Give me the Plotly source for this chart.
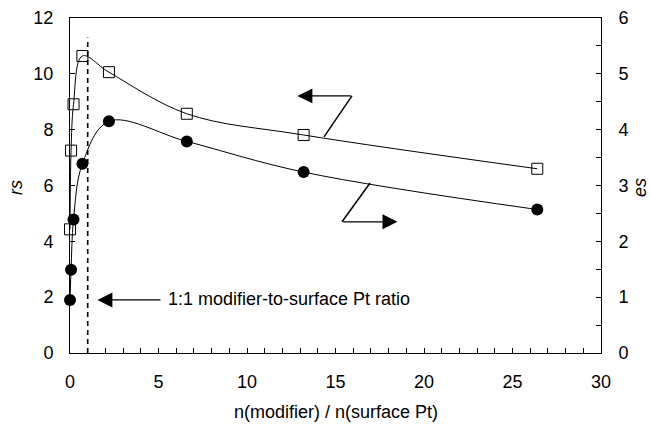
import plotly.graph_objects as go

# data
ratio = [0.0, 0.06, 0.2, 0.7, 2.2, 6.6, 13.2, 26.4]
rs_vals = [4.43, 7.25, 8.91, 10.64, 10.06, 8.57, 7.81, 6.60]
es_vals = [0.95, 1.49, 2.39, 3.39, 4.15, 3.79, 3.24, 2.57]
x_ticks = [0, 5, 10, 15, 20, 25, 30]
rs_ticks = [0, 2, 4, 6, 8, 10, 12]
es_ticks = [0, 1, 2, 3, 4, 5, 6]

FONT = "Liberation Sans, Arial, sans-serif"

fig = go.Figure()
fig.add_trace(go.Scatter(
    x=ratio, y=rs_vals, mode="lines+markers",
    line=dict(color="black", width=1, shape="spline", smoothing=1),
    marker=dict(symbol="square-open", size=11, color="black", line=dict(width=1)),
    showlegend=False, cliponaxis=False))
fig.add_trace(go.Scatter(
    x=ratio, y=es_vals, mode="lines+markers", yaxis="y2",
    line=dict(color="black", width=1, shape="spline", smoothing=1),
    marker=dict(symbol="circle", size=12, color="black"),
    showlegend=False, cliponaxis=False))

# dashed 1:1 line
fig.add_shape(type="line", x0=1, x1=1, y0=0, y1=11.3, xref="x", yref="y",
              line=dict(color="black", width=1.6, dash="5px,4px"))

# bent arrow pointing left (rs series)
fig.add_shape(type="path", path="M 14.35 7.74 L 15.93 9.21", xref="x", yref="y",
              line=dict(color="black", width=1.5))
fig.add_annotation(x=12.85, y=9.21, ax=15.95, ay=9.21, xref="x", yref="y",
                   axref="x", ayref="y", text="", showarrow=True,
                   arrowhead=2, arrowsize=2.3, arrowwidth=1.3, arrowcolor="black")
# bent arrow pointing right (es series)
fig.add_shape(type="path", path="M 16.95 6.09 L 15.37 4.70", xref="x", yref="y",
              line=dict(color="black", width=1.5))
fig.add_annotation(x=18.5, y=4.70, ax=15.35, ay=4.70, xref="x", yref="y",
                   axref="x", ayref="y", text="", showarrow=True,
                   arrowhead=2, arrowsize=2.3, arrowwidth=1.3, arrowcolor="black")
# ratio arrow
fig.add_annotation(x=1.55, y=1.90, ax=5.2, ay=1.90, xref="x", yref="y",
                   axref="x", ayref="y", text="", showarrow=True,
                   arrowhead=2, arrowsize=2.3, arrowwidth=1.3, arrowcolor="black")
fig.add_annotation(x=5.45, y=1.95, xref="x", yref="y", xanchor="left",
                   text="1:1 modifier-to-surface Pt ratio", showarrow=False,
                   font=dict(family=FONT, size=18, color="black"))

# axis titles
fig.add_annotation(x=(336 - 70) / 531, y=-(412 - 353) / 335, xref="paper", yref="paper",
                   text="n(modifier) / n(surface Pt)", showarrow=False,
                   xanchor="center", yanchor="middle",
                   font=dict(family=FONT, size=18, color="black"))
fig.add_annotation(x=-(70 - 16) / 531, y=(353 - 188) / 335, xref="paper", yref="paper",
                   text="<i>rs</i>", showarrow=False, textangle=-90, borderpad=0,
                   xanchor="center", yanchor="middle",
                   font=dict(family=FONT, size=18, color="black"))
fig.add_annotation(x=1 + (640 - 601) / 531, y=(353 - 188) / 335, xref="paper", yref="paper",
                   text="<i>es</i>", showarrow=False, textangle=-90, borderpad=0,
                   xanchor="center", yanchor="middle",
                   font=dict(family=FONT, size=18, color="black"))

fig.update_layout(
    width=650, height=425,
    margin=dict(l=70, r=49, t=18, b=72, autoexpand=False),
    paper_bgcolor="white", plot_bgcolor="white",
    font=dict(family=FONT, size=18, color="black"),
    xaxis=dict(range=[0, 30], tickvals=x_ticks, ticks="inside", ticklen=5,
               tickcolor="black", showline=True, linecolor="black", linewidth=1,
               mirror=True, showgrid=False, zeroline=False, automargin=False,
               minor=dict(dtick=1, ticks="inside", ticklen=5, tickcolor="black"),
               ticklabelstandoff=12),
    yaxis=dict(range=[0, 12], tickvals=rs_ticks, ticks="inside", ticklen=5,
               tickcolor="black", showline=True, linecolor="black", linewidth=1,
               showgrid=False, zeroline=False, ticklabelstandoff=12, automargin=False),
    yaxis2=dict(range=[0, 6], tickvals=es_ticks, ticks="inside", ticklen=5,
                tickcolor="black", showline=True, linecolor="black", linewidth=1,
                overlaying="y", side="right", showgrid=False, zeroline=False,
                minor=dict(dtick=0.5, ticks="inside", ticklen=5, tickcolor="black"),
                ticklabelstandoff=13, automargin=False),
)

fig.write_html("out.html")
